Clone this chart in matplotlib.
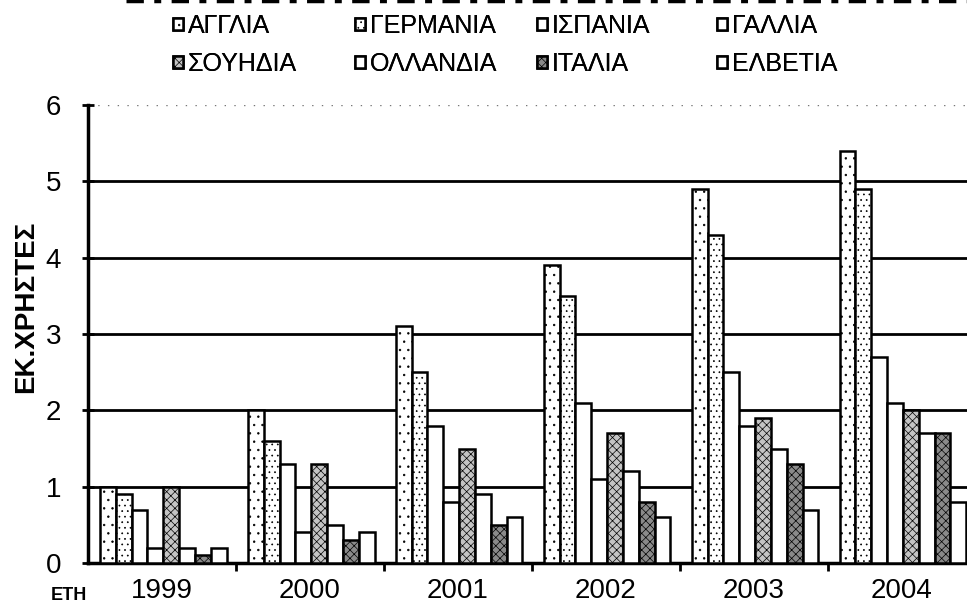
import matplotlib
matplotlib.use('Agg')
import matplotlib.pyplot as plt
from matplotlib.lines import Line2D
import numpy as np

# data (millions of users)
years = ['1999', '2000', '2001', '2002', '2003', '2004']
countries = ['ΑΓΓΛΙΑ', 'ΓΕΡΜΑΝΙΑ', 'ΙΣΠΑΝΙΑ', 'ΓΑΛΛΙΑ',
             'ΣΟΥΗΔΙΑ', 'ΟΛΛΑΝΔΙΑ', 'ΙΤΑΛΙΑ', 'ΕΛΒΕΤΙΑ']
aggl = [1.0, 2.0, 3.1, 3.9, 4.9, 5.4]
germ = [0.9, 1.6, 2.5, 3.5, 4.3, 4.9]
ispa = [0.7, 1.3, 1.8, 2.1, 2.5, 2.7]
gall = [0.2, 0.4, 0.8, 1.1, 1.8, 2.1]
souh = [1.0, 1.3, 1.5, 1.7, 1.9, 2.0]
olla = [0.2, 0.5, 0.9, 1.2, 1.5, 1.7]
ital = [0.1, 0.3, 0.5, 0.8, 1.3, 1.7]
elve = [0.2, 0.4, 0.6, 0.6, 0.7, 0.8]
series = [aggl, germ, ispa, gall, souh, olla, ital, elve]

# fill style per country (scanned b/w look)
faces = ['white', 'white', 'white', 'white', '#c4c4c4', 'white', '#8a8a8a', 'white']
hatches = ['..', '...', None, None, 'xxxx', None, 'xxxx', None]

plt.rcParams['font.family'] = ['Liberation Sans', 'DejaVu Sans']
plt.rcParams['hatch.linewidth'] = 0.5

fig = plt.figure(figsize=(9.67, 6.05), dpi=100)
ax = fig.add_axes([0.091, 0.0694, 0.918, 0.757])

x = np.arange(len(years))
w = 0.107
for k, vals in enumerate(series):
    ax.bar(x - 0.366 + w * k, vals, width=w, color=faces[k], edgecolor='black',
           linewidth=1.8, hatch=hatches[k], zorder=3, label=countries[k])

ax.set_xlim(-0.5, 5.5)
ax.set_ylim(0, 6)
ax.set_yticks(range(7))
ax.set_yticklabels([str(i) for i in range(7)], fontsize=20)
for yv in range(1, 6):
    ax.axhline(yv, color='black', linewidth=2, zorder=1)
ax.axhline(6, color='#777777', linewidth=1, linestyle=(0, (1, 6)), zorder=1)

ax.set_xticks(x)
ax.set_xticklabels(years, fontsize=20)
ax.tick_params(axis='x', length=0, pad=11)
ax.set_xticks(x[:-1] + 0.5, minor=True)
ax.tick_params(axis='x', which='minor', length=6, width=2, direction='out')
ax.tick_params(axis='y', length=9, width=2, direction='inout', pad=15)

for s in ['top', 'right']:
    ax.spines[s].set_visible(False)
ax.spines['left'].set_linewidth(2.5)
ax.spines['bottom'].set_linewidth(2.5)

ax.set_ylabel('ΕΚ.ΧΡΗΣΤΕΣ', fontsize=20, fontweight='bold')
ax.yaxis.set_label_coords(-0.055, 0.56)
fig.text(0.052, 0.0165, 'ΕΤΗ', fontsize=13, fontweight='bold', va='center')

# legend laid out in 4 fixed columns like the original
handles, labels = ax.get_legend_handles_labels()
col_x = [173, 355, 537, 717]
for c in range(4):
    hs = [handles[c], handles[c + 4]]
    ls = [labels[c], labels[c + 4]]
    leg = fig.legend(hs, ls, loc='upper left', bbox_to_anchor=(col_x[c] / 967, 0.977),
                     frameon=False, fontsize=18, handlelength=0.4, handleheight=0.4,
                     handletextpad=0.2, labelspacing=0.56, borderpad=0, borderaxespad=0)
    fig.add_artist(leg)

# remnant of a cut-off line at the top of the scan
fig.add_artist(Line2D([0.13, 1.0], [0.998, 0.998], color='black', linewidth=2.5,
                      linestyle=(0, (5, 3, 2, 3)), transform=fig.transFigure))

fig.savefig('out.png', dpi=100)
